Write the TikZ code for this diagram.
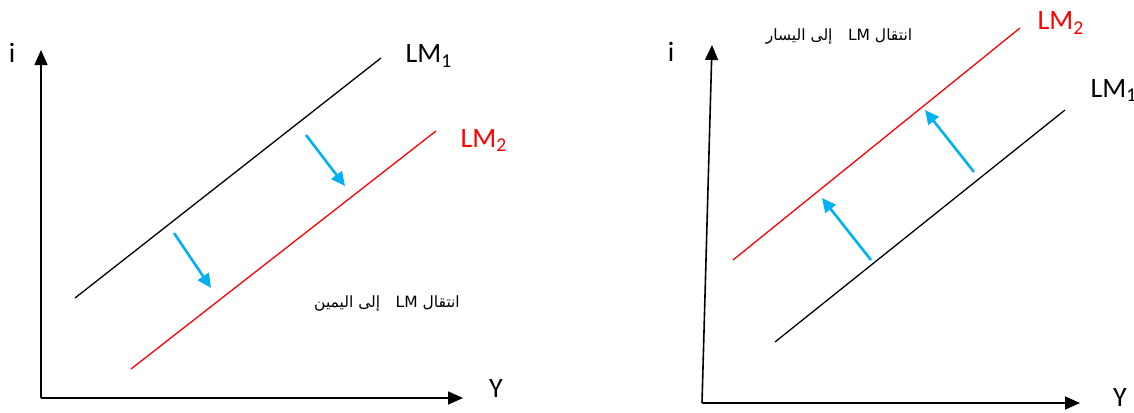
\documentclass[tikz,border=0pt]{standalone}
\usepackage{fontspec}
\setmainfont{Carlito}
\newfontfamily\arabicfont[Script=Arabic]{DejaVu Sans}
\TeXXeTstate=1
\usepackage{xcolor}
\usetikzlibrary{arrows.meta}
\definecolor{shiftblue}{RGB}{0,176,240}

\begin{document}
\begin{tikzpicture}[
    x=1pt, y=-1pt,
    font=\fontsize{28}{32}\selectfont,
    axis/.style={-{Triangle[length=15pt,width=13pt]}, line width=1.6pt},
    curve/.style={line width=1.3pt},
    move/.style={-{Triangle[length=14pt,width=13pt]}, line width=2.6pt, shiftblue},
    note/.style={font=\fontsize{15.5}{18}\selectfont\arabicfont, anchor=base}
]
\useasboundingbox (0,0) rectangle (1134,412);

% --- Left: LM shifts to the right ---
\coordinate (o1) at (41,398);
\coordinate (i1) at (41,50);
\coordinate (y1) at (463,398);
\draw[axis] (o1) -- (i1);
\draw[axis] (o1) -- (y1);
\node[anchor=base] (ilab1) at (12,63) {i};
\node[anchor=base] (ylab1) at (496,397) {Y};

\coordinate (a1) at (75,298);
\coordinate (b1) at (381,58);
\coordinate (a2) at (131,369);
\coordinate (b2) at (436,131);
\draw[curve] (a1) -- (b1);
\draw[curve, red] (a2) -- (b2);
\node[anchor=base west] (lmone) at (402,63) {LM\textsubscript{1}};
\node[anchor=base west, red] (lmtwo) at (457,147) {LM\textsubscript{2}};

\coordinate (s1) at (306,135);
\coordinate (t1) at (345,186);
\coordinate (s2) at (174,233);
\coordinate (t2) at (211,288);
\draw[move] (s1) -- (t1);
\draw[move] (s2) -- (t2);
\node[note] (right) at (387,307) {\beginR انتقال \beginL LM\endL\quad إلى اليمين\endR};

% --- Right: LM shifts to the left ---
\coordinate (o2) at (702,403);
\coordinate (i2) at (712,45);
\coordinate (y2) at (1080,403);
\draw[axis] (o2) -- (i2);
\draw[axis] (o2) -- (y2);
\node[anchor=base] (ilab2) at (671,62) {i};
\node[anchor=base] (ylab2) at (1120,406) {Y};

\coordinate (c1) at (775,342);
\coordinate (d1) at (1065,110);
\coordinate (c2) at (733,260);
\coordinate (d2) at (1020,28);
\draw[curve] (c1) -- (d1);
\draw[curve, red] (c2) -- (d2);
\node[anchor=base west] (lmthree) at (1087,97) {LM\textsubscript{1}};
\node[anchor=base west, red] (lmfour) at (1034,30) {LM\textsubscript{2}};

\coordinate (s3) at (871,260);
\coordinate (t3) at (822,198);
\coordinate (s4) at (974,172);
\coordinate (t4) at (925,110);
\draw[move] (s3) -- (t3);
\draw[move] (s4) -- (t4);
\node[note] (left) at (839,41) {\beginR انتقال \beginL LM\endL\quad إلى اليسار\endR};

\end{tikzpicture}
\end{document}
